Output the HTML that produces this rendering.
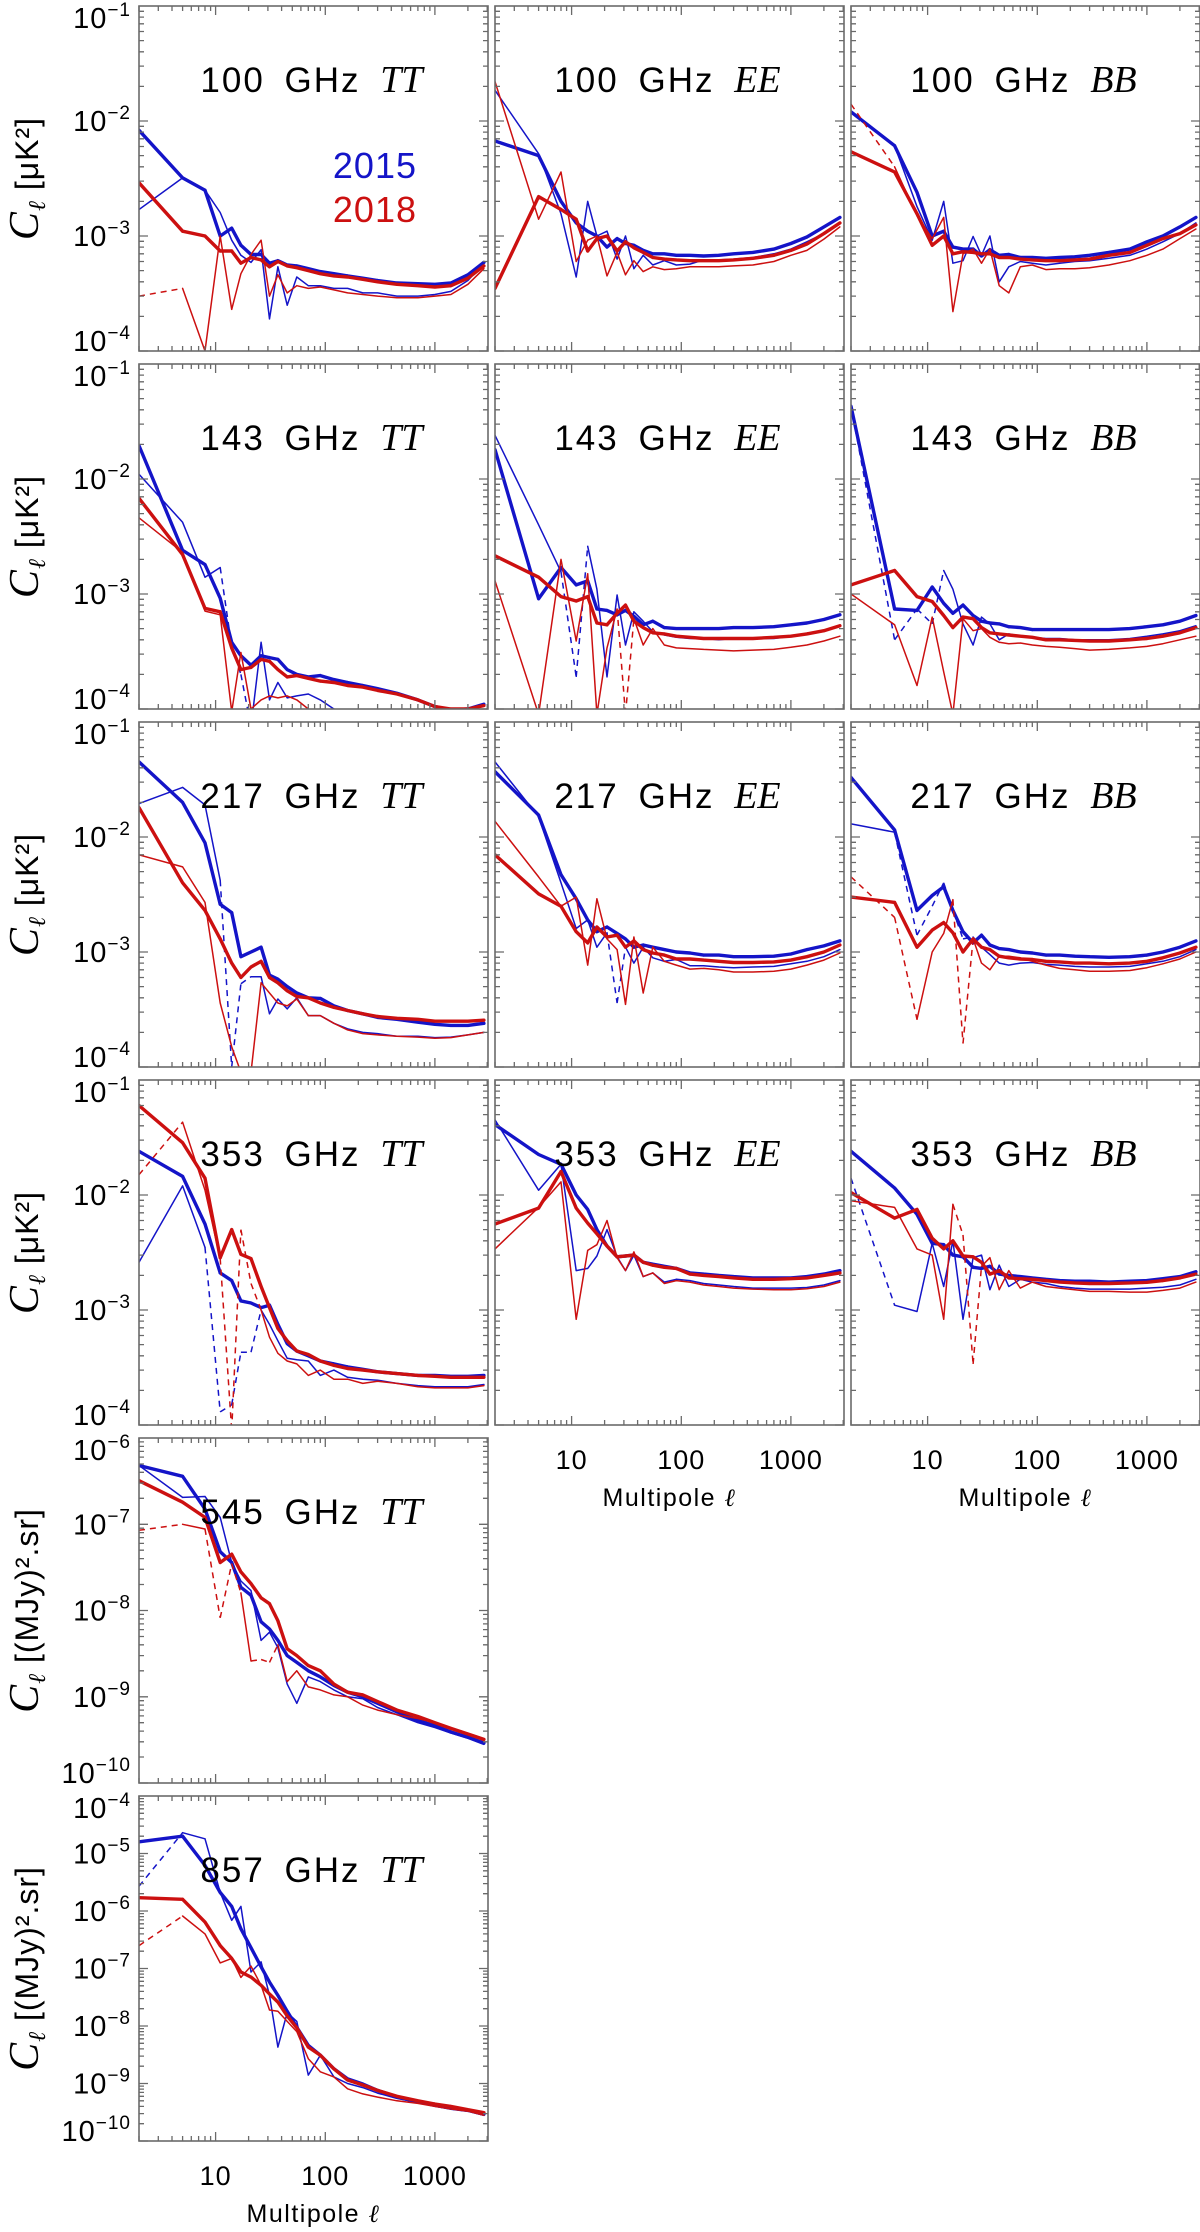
<!DOCTYPE html>
<html><head><meta charset="utf-8"><style>
html,body{margin:0;padding:0;background:#fff;}
svg{display:block;}
text{font-family:"Liberation Sans","DejaVu Sans",sans-serif;fill:#000;}
</style></head>
<body>
<svg id="fig" xmlns="http://www.w3.org/2000/svg" width="1200" height="2232" viewBox="0 0 1200 2232">
<defs id="defs"></defs>
<g id="root"></g>
</svg>
<script>
const ell = [2,5,8,11,14,17,21,26,31,37,45,55,70,90,120,160,220,300,450,700,1000,1400,2000,2800];
const xTickLabels = ["10","100","1000"];
const xTickValues = [10,100,1000];

const tt100_t15b = [8.3e-3,3.2e-3,2.5e-3,1.0e-3,1.17e-3,8.3e-4,6.9e-4,6.9e-4,5.8e-4,6.1e-4,5.6e-4,5.5e-4,5.2e-4,4.9e-4,4.7e-4,4.5e-4,4.3e-4,4.1e-4,3.9e-4,3.85e-4,3.8e-4,3.9e-4,4.6e-4,5.9e-4];
const tt100_t15n = [1.7e-3,3.2e-3,2.5e-3,1.6e-3,9.2e-4,6.8e-4,5.9e-4,7.6e-4,1.9e-4,5.4e-4,2.5e-4,4.4e-4,3.7e-4,3.7e-4,3.5e-4,3.5e-4,3.2e-4,3.2e-4,3.0e-4,3.0e-4,3.1e-4,3.3e-4,4.1e-4,5.8e-4];
const tt100_t18b = [2.9e-3,1.1e-3,1.0e-3,7.4e-4,7.4e-4,5.8e-4,6.5e-4,6.2e-4,5.4e-4,6.0e-4,5.5e-4,5.3e-4,5.0e-4,4.7e-4,4.5e-4,4.4e-4,4.2e-4,4.0e-4,3.8e-4,3.7e-4,3.6e-4,3.7e-4,4.3e-4,5.5e-4];
const tt100_t18n = [-3.0e-4,3.5e-4,1.0e-4,1.0e-3,2.3e-4,4.7e-4,6.9e-4,9.2e-4,3.0e-4,4.6e-4,3.2e-4,3.7e-4,3.5e-4,3.6e-4,3.4e-4,3.2e-4,3.1e-4,3.0e-4,2.9e-4,2.9e-4,3.0e-4,3.1e-4,3.8e-4,5.2e-4];

const ee100_t15b = [6.7e-3,5.0e-3,2.0e-3,1.3e-3,1.1e-3,1.0e-3,8.0e-4,9.5e-4,8.6e-4,8.3e-4,7.5e-4,7.0e-4,7.0e-4,6.8e-4,6.8e-4,6.7e-4,6.8e-4,7.0e-4,7.2e-4,7.7e-4,8.6e-4,9.8e-4,1.2e-3,1.45e-3];
const ee100_t15n = [1.85e-2,5.2e-3,1.56e-3,4.4e-4,2.0e-3,1.0e-3,1.1e-3,6.3e-4,1.0e-3,5.2e-4,6.8e-4,5.6e-4,6.1e-4,5.6e-4,5.7e-4,6.2e-4,6.2e-4,6.3e-4,6.5e-4,7.0e-4,7.7e-4,8.9e-4,1.05e-3,1.3e-3];
const ee100_t18b = [3.5e-4,2.2e-3,1.7e-3,1.4e-3,7.4e-4,9.5e-4,1.0e-3,7.4e-4,8.9e-4,7.9e-4,7.2e-4,6.5e-4,6.3e-4,6.2e-4,6.1e-4,6.1e-4,6.1e-4,6.2e-4,6.4e-4,6.8e-4,7.5e-4,8.5e-4,1.05e-3,1.3e-3];
const ee100_t18n = [2.2e-2,1.4e-3,3.6e-3,6.0e-4,9.2e-4,1.0e-3,4.5e-4,7.2e-4,4.6e-4,6.1e-4,4.9e-4,5.4e-4,5.1e-4,5.2e-4,5.4e-4,5.4e-4,5.4e-4,5.5e-4,5.6e-4,6.0e-4,6.8e-4,7.5e-4,9.4e-4,1.2e-3];

const bb100_t15b = [1.2e-2,6.1e-3,2.4e-3,1.0e-3,1.1e-3,8.0e-4,7.7e-4,7.7e-4,6.7e-4,7.6e-4,6.8e-4,6.9e-4,6.5e-4,6.5e-4,6.4e-4,6.5e-4,6.6e-4,6.8e-4,7.2e-4,7.7e-4,8.9e-4,1.0e-3,1.2e-3,1.45e-3];
const bb100_t15n = [1.2e-2,6.1e-3,1.8e-3,9.2e-4,2.0e-3,5.8e-4,6.1e-4,9.9e-4,6.8e-4,1.0e-3,4.0e-4,5.4e-4,6.0e-4,5.8e-4,5.6e-4,5.8e-4,6.0e-4,6.1e-4,6.4e-4,6.8e-4,7.7e-4,8.9e-4,1.05e-3,1.3e-3];
const bb100_t18b = [5.4e-3,3.6e-3,1.56e-3,8.3e-4,1.0e-3,7.0e-4,7.3e-4,7.2e-4,7.0e-4,7.0e-4,6.5e-4,6.5e-4,6.3e-4,6.2e-4,6.1e-4,6.1e-4,6.2e-4,6.3e-4,6.8e-4,7.2e-4,8.3e-4,9.5e-4,1.05e-3,1.25e-3];
const bb100_t18n = [-1.4e-2,4.0e-3,1.5e-3,9.5e-4,1.45e-3,2.2e-4,7.0e-4,7.7e-4,5.8e-4,7.7e-4,3.7e-4,3.2e-4,5.4e-4,5.6e-4,5.1e-4,5.2e-4,5.2e-4,5.3e-4,5.6e-4,6.1e-4,6.8e-4,7.7e-4,9.5e-4,1.15e-3];

const tt143_t15b = [1.95e-2,2.4e-3,1.8e-3,9.2e-4,3.8e-4,2.9e-4,2.4e-4,2.9e-4,2.8e-4,2.7e-4,2.2e-4,2.0e-4,1.9e-4,1.95e-4,1.8e-4,1.7e-4,1.6e-4,1.5e-4,1.37e-4,1.2e-4,1.05e-4,9.8e-5,1.0e-4,1.1e-4];
const tt143_t15n = [1.1e-2,4.2e-3,1.4e-3,1.7e-3,-3.5e-4,-2.0e-4,7e-5,3.8e-4,1.2e-4,1.7e-4,1.25e-4,1.3e-4,1.35e-4,1.2e-4,1.0e-4,9.5e-5,9e-5,8.5e-5,8e-5,7.5e-5,7e-5,7e-5,7.5e-5,8e-5];
const tt143_t18b = [6.8e-3,2.2e-3,7.5e-4,7.0e-4,3.4e-4,2.2e-4,2.3e-4,2.7e-4,2.6e-4,2.2e-4,1.9e-4,1.95e-4,1.85e-4,1.75e-4,1.7e-4,1.6e-4,1.55e-4,1.45e-4,1.35e-4,1.2e-4,1.05e-4,1.0e-4,1.0e-4,1.07e-4];
const tt143_t18n = [4.6e-3,2.3e-3,7.1e-4,6.6e-4,9.5e-5,3.1e-4,1.0e-4,1.2e-4,1.3e-4,1.25e-4,1.3e-4,1.2e-4,1.0e-4,9e-5,8.5e-5,8e-5,7.5e-5,7e-5,6.5e-5,6e-5,6e-5,6e-5,6.5e-5,7e-5];

const ee143_t15b = [1.8e-2,9.1e-4,1.7e-3,1.2e-3,1.3e-3,7.4e-4,7.2e-4,6.6e-4,7.2e-4,6.4e-4,5.4e-4,5.8e-4,5.1e-4,5.0e-4,5.0e-4,5.0e-4,5.0e-4,5.1e-4,5.1e-4,5.2e-4,5.4e-4,5.6e-4,6.0e-4,6.6e-4];
const ee143_t15n = [2.4e-2,4.0e-3,1.56e-3,-1.9e-4,2.6e-3,1.1e-3,1.9e-4,9.8e-4,3.6e-4,7.0e-4,5.8e-4,4.7e-4,4.4e-4,4.2e-4,4.1e-4,4.1e-4,4.0e-4,4.1e-4,4.1e-4,4.1e-4,4.3e-4,4.5e-4,4.8e-4,5.3e-4];
const ee143_t18b = [2.15e-3,1.4e-3,9.5e-4,8.7e-4,9.5e-4,5.6e-4,5.4e-4,6.8e-4,8.0e-4,5.8e-4,5.1e-4,4.6e-4,4.5e-4,4.3e-4,4.2e-4,4.1e-4,4.1e-4,4.1e-4,4.1e-4,4.2e-4,4.3e-4,4.5e-4,4.8e-4,5.3e-4];
const ee143_t18n = [1.3e-3,9e-5,2.0e-3,3.9e-4,1.5e-3,9e-5,3.4e-4,7.4e-4,-9e-5,6.1e-4,3.6e-4,5.0e-4,3.6e-4,3.4e-4,3.35e-4,3.3e-4,3.25e-4,3.2e-4,3.25e-4,3.3e-4,3.45e-4,3.6e-4,3.9e-4,4.3e-4];

const bb143_t15b = [4.3e-2,7.4e-4,7.2e-4,1.15e-3,8.3e-4,6.8e-4,8.0e-4,6.5e-4,5.8e-4,5.6e-4,5.5e-4,5.2e-4,5.1e-4,4.9e-4,4.9e-4,4.9e-4,4.9e-4,4.9e-4,4.9e-4,5.0e-4,5.2e-4,5.4e-4,5.8e-4,6.5e-4];
const bb143_t15n = [4.3e-2,-4.0e-4,7.4e-4,-5.5e-4,1.6e-3,1.1e-3,5.5e-4,3.6e-4,6.3e-4,5.5e-4,4.0e-4,4.5e-4,4.3e-4,4.2e-4,4.1e-4,4.1e-4,4.0e-4,4.0e-4,4.0e-4,4.1e-4,4.3e-4,4.5e-4,4.8e-4,5.3e-4];
const bb143_t18b = [1.2e-3,1.6e-3,9.5e-4,8.6e-4,6.5e-4,5.1e-4,6.3e-4,6.1e-4,5.1e-4,4.6e-4,4.5e-4,4.4e-4,4.3e-4,4.2e-4,4.0e-4,4.0e-4,3.95e-4,3.9e-4,3.9e-4,4.0e-4,4.1e-4,4.3e-4,4.6e-4,5.1e-4];
const bb143_t18n = [1.0e-3,5.4e-4,1.6e-4,6.3e-4,2.1e-4,9e-5,6.1e-4,4.8e-4,5.0e-4,4.2e-4,3.8e-4,3.7e-4,3.75e-4,3.6e-4,3.5e-4,3.45e-4,3.35e-4,3.25e-4,3.3e-4,3.4e-4,3.5e-4,3.7e-4,4.0e-4,4.3e-4];

const tt217_t15b = [4.5e-2,2.0e-2,8.9e-3,2.6e-3,2.2e-3,9.1e-4,1.0e-3,1.1e-3,6.3e-4,5.8e-4,5.0e-4,4.4e-4,4.0e-4,3.95e-4,3.4e-4,3.1e-4,2.9e-4,2.7e-4,2.6e-4,2.45e-4,2.35e-4,2.3e-4,2.3e-4,2.4e-4];
const tt217_t15n = [1.95e-2,2.7e-2,1.9e-2,4.2e-3,-1.0e-4,-5.3e-4,6.1e-4,6.1e-4,2.9e-4,3.9e-4,3.2e-4,4.0e-4,2.8e-4,2.8e-4,2.4e-4,2.15e-4,2.0e-4,1.95e-4,1.85e-4,1.85e-4,1.8e-4,1.82e-4,1.9e-4,2.0e-4];
const tt217_t18b = [1.8e-2,4.0e-3,2.3e-3,1.3e-3,8.0e-4,6.0e-4,7.4e-4,8.3e-4,6.0e-4,5.4e-4,4.6e-4,4.1e-4,4.0e-4,3.6e-4,3.3e-4,3.1e-4,2.9e-4,2.75e-4,2.65e-4,2.6e-4,2.5e-4,2.5e-4,2.5e-4,2.55e-4];
const tt217_t18n = [7.0e-3,5.5e-3,2.7e-3,3.6e-4,1.5e-4,9e-5,9e-5,5.4e-4,4.4e-4,3.6e-4,3.4e-4,3.9e-4,2.8e-4,2.8e-4,2.4e-4,2.1e-4,1.95e-4,1.9e-4,1.85e-4,1.82e-4,1.78e-4,1.8e-4,1.9e-4,2.0e-4];

const ee217_t15b = [3.7e-2,1.55e-2,4.7e-3,2.9e-3,1.9e-3,1.5e-3,1.65e-3,1.45e-3,1.3e-3,1.1e-3,1.15e-3,1.1e-3,1.05e-3,1.0e-3,9.8e-4,9.4e-4,9.4e-4,9.1e-4,9.1e-4,9.2e-4,9.6e-4,1.05e-3,1.13e-3,1.25e-3];
const ee217_t15n = [4.5e-2,1.5e-2,4.0e-3,1.6e-3,1.9e-3,1.1e-3,1.47e-3,-3.6e-4,1.1e-3,8.0e-4,1.1e-3,8.9e-4,8.3e-4,8.6e-4,7.6e-4,7.6e-4,7.4e-4,7.3e-4,7.4e-4,7.5e-4,7.9e-4,8.3e-4,9.1e-4,1.05e-3];
const ee217_t18b = [7.0e-3,3.2e-3,2.5e-3,1.5e-3,1.2e-3,1.65e-3,1.35e-3,1.4e-3,1.1e-3,1.25e-3,1.05e-3,9.8e-4,9.4e-4,8.7e-4,8.7e-4,8.5e-4,8.3e-4,8.1e-4,8.1e-4,8.2e-4,8.5e-4,9.1e-4,1.0e-3,1.15e-3];
const ee217_t18n = [1.37e-2,4.5e-3,2.5e-3,3.0e-3,7.7e-4,2.9e-3,1.3e-3,1.05e-3,3.5e-4,1.35e-3,4.4e-4,1.1e-3,8.3e-4,7.7e-4,7.1e-4,7.2e-4,7.0e-4,6.7e-4,6.7e-4,6.8e-4,7.1e-4,7.7e-4,8.5e-4,9.8e-4];

const bb217_t15b = [3.3e-2,1.15e-2,2.3e-3,3.1e-3,3.7e-3,2.3e-3,1.5e-3,1.2e-3,1.4e-3,1.15e-3,1.07e-3,1.05e-3,1.0e-3,9.8e-4,9.4e-4,9.4e-4,9.2e-4,9.1e-4,9.0e-4,9.1e-4,9.4e-4,1.0e-3,1.1e-3,1.25e-3];
const bb217_t15n = [1.3e-2,1.1e-2,-1.4e-3,-2.5e-3,4.0e-3,-2.3e-3,-1.3e-3,1.35e-3,1.1e-3,9.5e-4,8.0e-4,7.7e-4,8.0e-4,8.1e-4,7.8e-4,7.7e-4,7.5e-4,7.4e-4,7.4e-4,7.5e-4,7.9e-4,8.3e-4,9.1e-4,1.05e-3];
const bb217_t18b = [3.0e-3,2.7e-3,1.1e-3,1.55e-3,1.8e-3,1.47e-3,1.0e-3,1.3e-3,1.1e-3,1.05e-3,9.2e-4,8.9e-4,8.7e-4,8.6e-4,8.3e-4,8.2e-4,8.0e-4,8.0e-4,7.9e-4,8.0e-4,8.3e-4,8.9e-4,9.8e-4,1.1e-3];
const bb217_t18n = [-4.5e-3,-2.0e-3,2.6e-4,1.0e-3,1.45e-3,2.85e-3,-1.6e-4,1.3e-3,8.0e-4,7.0e-4,9.2e-4,9.2e-4,8.9e-4,8.3e-4,7.7e-4,7.2e-4,7.0e-4,6.8e-4,6.8e-4,6.9e-4,7.3e-4,7.9e-4,8.7e-4,1.0e-3];

const tt353_t15b = [2.4e-2,1.45e-2,5.6e-3,2.1e-3,1.8e-3,1.2e-3,1.15e-3,1.05e-3,1.1e-3,7.5e-4,5.1e-4,4.4e-4,4.0e-4,3.6e-4,3.4e-4,3.2e-4,3.05e-4,2.9e-4,2.8e-4,2.7e-4,2.7e-4,2.65e-4,2.65e-4,2.7e-4];
const tt353_t15n = [2.6e-3,1.2e-2,3.5e-3,-1.3e-4,-1.5e-4,-4.3e-4,-4.3e-4,1.0e-3,7.5e-4,5.4e-4,3.8e-4,3.7e-4,3.6e-4,2.7e-4,3.0e-4,2.6e-4,2.5e-4,2.45e-4,2.3e-4,2.2e-4,2.15e-4,2.15e-4,2.15e-4,2.25e-4];
const tt353_t18b = [6.0e-2,2.85e-2,1.4e-2,2.85e-3,5.0e-3,3.05e-3,2.8e-3,1.6e-3,1.05e-3,6.9e-4,5.4e-4,4.4e-4,4.1e-4,3.6e-4,3.3e-4,3.1e-4,3.0e-4,2.9e-4,2.8e-4,2.7e-4,2.65e-4,2.6e-4,2.6e-4,2.6e-4];
const tt353_t18n = [-1.5e-2,4.3e-2,1.1e-2,2.8e-3,-9e-5,5.0e-3,-1.7e-3,1.0e-3,5.8e-4,4.2e-4,3.6e-4,3.4e-4,2.7e-4,3.0e-4,2.5e-4,2.5e-4,2.3e-4,2.4e-4,2.3e-4,2.15e-4,2.1e-4,2.1e-4,2.1e-4,2.2e-4];

const ee353_t15b = [4.1e-2,2.25e-2,1.85e-2,1.0e-2,7.5e-3,5.0e-3,3.6e-3,2.9e-3,2.95e-3,3.0e-3,2.6e-3,2.5e-3,2.4e-3,2.3e-3,2.1e-3,2.05e-3,2.0e-3,1.95e-3,1.9e-3,1.9e-3,1.9e-3,1.95e-3,2.05e-3,2.2e-3];
const ee353_t15n = [4.5e-2,1.1e-2,1.85e-2,2.2e-3,2.3e-3,2.95e-3,5.0e-3,2.9e-3,2.2e-3,3.0e-3,1.95e-3,2.1e-3,1.75e-3,1.85e-3,1.8e-3,1.7e-3,1.65e-3,1.6e-3,1.55e-3,1.55e-3,1.55e-3,1.57e-3,1.65e-3,1.8e-3];
const ee353_t18b = [5.6e-3,7.7e-3,1.6e-2,7.7e-3,5.7e-3,4.6e-3,3.6e-3,2.9e-3,2.95e-3,3.0e-3,2.6e-3,2.45e-3,2.35e-3,2.3e-3,2.05e-3,2.0e-3,1.95e-3,1.9e-3,1.85e-3,1.85e-3,1.87e-3,1.9e-3,2.0e-3,2.1e-3];
const ee353_t18n = [3.4e-3,7.8e-3,1.3e-2,8.3e-4,3.3e-3,3.7e-3,6.0e-3,2.85e-3,2.2e-3,3.2e-3,1.95e-3,2.1e-3,1.7e-3,1.8e-3,1.75e-3,1.65e-3,1.6e-3,1.55e-3,1.52e-3,1.5e-3,1.5e-3,1.53e-3,1.6e-3,1.75e-3];

const bb353_t15b = [2.4e-2,1.15e-2,6.8e-3,3.8e-3,3.7e-3,3.0e-3,2.9e-3,2.35e-3,2.3e-3,2.4e-3,2.05e-3,2.0e-3,1.95e-3,1.9e-3,1.85e-3,1.8e-3,1.78e-3,1.78e-3,1.75e-3,1.78e-3,1.8e-3,1.87e-3,1.95e-3,2.15e-3];
const bb353_t15n = [-1.4e-2,1.1e-3,9.7e-4,3.8e-3,1.6e-3,4.0e-3,8.3e-4,2.85e-3,3.0e-3,1.5e-3,2.45e-3,1.6e-3,1.85e-3,1.75e-3,1.7e-3,1.6e-3,1.55e-3,1.52e-3,1.52e-3,1.52e-3,1.55e-3,1.58e-3,1.65e-3,1.85e-3];
const bb353_t18b = [1.05e-2,6.3e-3,7.5e-3,4.2e-3,3.4e-3,4.0e-3,2.95e-3,2.9e-3,2.6e-3,2.05e-3,2.2e-3,1.9e-3,1.87e-3,1.85e-3,1.8e-3,1.75e-3,1.72e-3,1.7e-3,1.7e-3,1.72e-3,1.74e-3,1.8e-3,1.9e-3,2.05e-3];
const bb353_t18n = [8.9e-3,7.8e-3,3.4e-3,3.0e-3,8.3e-4,8.3e-3,-4.5e-3,-3.4e-4,2.4e-3,2.85e-3,1.5e-3,2.2e-3,1.55e-3,1.75e-3,1.6e-3,1.55e-3,1.5e-3,1.45e-3,1.45e-3,1.43e-3,1.43e-3,1.48e-3,1.55e-3,1.75e-3];

const tt545_t15b = [4.8e-7,3.6e-7,1.5e-7,4.8e-8,3.6e-8,1.86e-8,1.5e-8,7.4e-9,6.1e-9,4.5e-9,3.0e-9,2.5e-9,2.0e-9,1.7e-9,1.35e-9,1.13e-9,1.0e-9,8.4e-10,6.7e-10,5.3e-10,4.6e-10,3.9e-10,3.4e-10,2.9e-10];
const tt545_t15n = [4.8e-7,2.05e-7,2.1e-7,1.2e-7,3.6e-8,2.2e-8,1.7e-8,4.5e-9,5.6e-9,3.7e-9,1.4e-9,8.4e-10,1.7e-9,1.5e-9,1.2e-9,1.0e-9,9.5e-10,7.5e-10,6.2e-10,5.0e-10,4.4e-10,3.8e-10,3.3e-10,2.8e-10];
const tt545_t18b = [3.2e-7,1.8e-7,1.2e-7,3.6e-8,4.5e-8,2.8e-8,2.05e-8,1.4e-8,1.2e-8,7.6e-9,3.6e-9,3.0e-9,2.3e-9,2.0e-9,1.4e-9,1.13e-9,1.05e-9,8.8e-10,7.0e-10,5.9e-10,5.0e-10,4.3e-10,3.7e-10,3.2e-10];
const tt545_t18n = [-8.5e-8,1.0e-7,8.8e-8,-8.2e-9,-3.5e-8,1.6e-8,2.6e-9,-2.7e-9,-2.5e-9,4.0e-9,1.5e-9,2.0e-9,1.3e-9,1.2e-9,1.05e-9,1.0e-9,8.0e-10,7.0e-10,6.2e-10,5.6e-10,5.0e-10,4.3e-10,3.7e-10,3.1e-10];

const tt857_t15b = [1.6e-5,2.0e-5,6.2e-6,2.1e-6,1.2e-6,4.9e-7,2.3e-7,1.07e-7,5.8e-8,3.4e-8,1.8e-8,9.5e-9,4.6e-9,3.1e-9,1.8e-9,1.2e-9,9.8e-10,7.6e-10,5.8e-10,4.8e-10,4.2e-10,3.7e-10,3.4e-10,2.9e-10];
const tt857_t15n = [-2.7e-6,2.3e-5,1.8e-5,2.1e-6,6.9e-7,1.2e-6,8.7e-8,1.3e-7,3.4e-8,4.3e-9,1.7e-8,1.2e-8,1.4e-9,3.1e-9,1.3e-9,1.0e-9,8.5e-10,6.8e-10,5.5e-10,4.7e-10,4.0e-10,3.6e-10,3.3e-10,2.8e-10];
const tt857_t18b = [1.7e-6,1.6e-6,6.4e-7,2.5e-7,1.5e-7,8.7e-8,7.1e-8,5.1e-8,3.6e-8,2.6e-8,1.5e-8,9.3e-9,4.3e-9,3.1e-9,1.8e-9,1.15e-9,9.4e-10,7.6e-10,6.0e-10,5.0e-10,4.4e-10,4.0e-10,3.5e-10,3.1e-10];
const tt857_t18n = [-2.5e-7,8.2e-7,4.0e-7,1.25e-7,1.5e-7,7.0e-8,1.1e-7,5.1e-8,1.9e-8,1.8e-8,1.2e-8,8.0e-9,2.7e-9,1.6e-9,1.3e-9,8.1e-10,6.6e-10,5.8e-10,5.0e-10,4.5e-10,4.0e-10,3.6e-10,3.3e-10,2.8e-10];

const panels = [
 {id:"100-tt",freq:"100",sp:"TT",col:0,row:0,lo:-4,hi:-1,s:[tt100_t15b,tt100_t15n,tt100_t18b,tt100_t18n]},
 {id:"100-ee",freq:"100",sp:"EE",col:1,row:0,lo:-4,hi:-1,s:[ee100_t15b,ee100_t15n,ee100_t18b,ee100_t18n]},
 {id:"100-bb",freq:"100",sp:"BB",col:2,row:0,lo:-4,hi:-1,s:[bb100_t15b,bb100_t15n,bb100_t18b,bb100_t18n]},
 {id:"143-tt",freq:"143",sp:"TT",col:0,row:1,lo:-4,hi:-1,s:[tt143_t15b,tt143_t15n,tt143_t18b,tt143_t18n]},
 {id:"143-ee",freq:"143",sp:"EE",col:1,row:1,lo:-4,hi:-1,s:[ee143_t15b,ee143_t15n,ee143_t18b,ee143_t18n]},
 {id:"143-bb",freq:"143",sp:"BB",col:2,row:1,lo:-4,hi:-1,s:[bb143_t15b,bb143_t15n,bb143_t18b,bb143_t18n]},
 {id:"217-tt",freq:"217",sp:"TT",col:0,row:2,lo:-4,hi:-1,s:[tt217_t15b,tt217_t15n,tt217_t18b,tt217_t18n]},
 {id:"217-ee",freq:"217",sp:"EE",col:1,row:2,lo:-4,hi:-1,s:[ee217_t15b,ee217_t15n,ee217_t18b,ee217_t18n]},
 {id:"217-bb",freq:"217",sp:"BB",col:2,row:2,lo:-4,hi:-1,s:[bb217_t15b,bb217_t15n,bb217_t18b,bb217_t18n]},
 {id:"353-tt",freq:"353",sp:"TT",col:0,row:3,lo:-4,hi:-1,s:[tt353_t15b,tt353_t15n,tt353_t18b,tt353_t18n]},
 {id:"353-ee",freq:"353",sp:"EE",col:1,row:3,lo:-4,hi:-1,s:[ee353_t15b,ee353_t15n,ee353_t18b,ee353_t18n]},
 {id:"353-bb",freq:"353",sp:"BB",col:2,row:3,lo:-4,hi:-1,s:[bb353_t15b,bb353_t15n,bb353_t18b,bb353_t18n]},
 {id:"545-tt",freq:"545",sp:"TT",col:0,row:4,lo:-10,hi:-6,s:[tt545_t15b,tt545_t15n,tt545_t18b,tt545_t18n]},
 {id:"857-tt",freq:"857",sp:"TT",col:0,row:5,lo:-10,hi:-4,s:[tt857_t15b,tt857_t15n,tt857_t18b,tt857_t18n]}
];

const NS = "http://www.w3.org/2000/svg";
const colX = [139,495,851];
const rowY = [6,364,722,1080,1438,1796];
const W = 349, H = 345;
const LMIN = 2, LMAX = 3050;
const styles = [
 {c:"#1414c8",w:3.4,name:"series-2015-full"},
 {c:"#1414c8",w:1.5,name:"series-2015-half"},
 {c:"#cc1010",w:3.4,name:"series-2018-full"},
 {c:"#cc1010",w:1.5,name:"series-2018-half"}
];
const root = document.getElementById("root");
const defs = document.getElementById("defs");

function mk(tag, attrs, parent){
  const e = document.createElementNS(NS, tag);
  for (const k in attrs) e.setAttribute(k, attrs[k]);
  if (parent) parent.appendChild(e);
  return e;
}

panels.forEach(function(p){
  const x0 = colX[p.col], y0 = rowY[p.row];
  const xs = function(l){ return x0 + Math.log10(l/LMIN)/Math.log10(LMAX/LMIN)*W; };
  const ys = function(v){ return y0 + (p.hi - Math.log10(Math.abs(v)))/(p.hi - p.lo)*H; };

  const g = mk("g", {}, root);
  
  

  const cp = mk("clipPath", {id:"clip-" + p.id}, defs);
  mk("rect", {x:x0, y:y0, width:W, height:H}, cp);

  const sg = mk("g", {"clip-path":"url(#clip-" + p.id + ")"}, g);
  p.s.forEach(function(arr, si){
    const st = styles[si];
    let solid = "", dashed = "";
    for (let i = 0; i < arr.length - 1; i++){
      const a = arr[i], b = arr[i+1];
      const seg = "M" + xs(ell[i]).toFixed(1) + "," + ys(a).toFixed(1) + "L" + xs(ell[i+1]).toFixed(1) + "," + ys(b).toFixed(1);
      if (a < 0 || b < 0) dashed += seg; else solid += seg;
    }
    const sp = mk("path", {d:solid, fill:"none", stroke:st.c, "stroke-width":st.w, "stroke-linejoin":"round", "stroke-linecap":"round"}, sg);
    
    
    if (dashed){
      const dp = mk("path", {d:dashed, fill:"none", stroke:st.c, "stroke-width":st.w, "stroke-dasharray":"6,5"}, sg);
      
      
    }
  });

  const fr = mk("rect", {x:x0, y:y0, width:W, height:H, fill:"none", stroke:"#6a6a6a", "stroke-width":1.6}, g);
  
  

  let td = "";
  for (let d = 1; d <= 1000; d *= 10){
    for (let m = 1; m <= 9; m++){
      const l = m*d;
      if (l < LMIN || l > LMAX) continue;
      const x = xs(l).toFixed(1), len = (m === 1) ? 9 : 5;
      td += "M" + x + "," + (y0+H) + "v-" + len + "M" + x + "," + y0 + "v" + len;
    }
  }
  for (let e = p.lo; e < p.hi; e++){
    for (let m = 1; m <= 9; m++){
      const v = m*Math.pow(10, e);
      const y = ys(v).toFixed(1), len = (m === 1) ? 9 : 5;
      td += "M" + x0 + "," + y + "h" + len + "M" + (x0+W) + "," + y + "h-" + len;
    }
  }
  mk("path", {d:td, stroke:"#6a6a6a", "stroke-width":1.3, fill:"none"}, g);

  if (p.col === 0){
    for (let e = p.lo; e <= p.hi; e++){
      let yc = ys(Math.pow(10, e));
      yc = Math.max(y0 + 12, Math.min(y0 + H - 10, yc));
      const t = mk("text", {x:131, y:(yc + 10).toFixed(1), "text-anchor":"end", "letter-spacing":"1"}, g);
      
      
      const a = mk("tspan", {"font-size":"29"}, t); a.textContent = "10";
      const b = mk("tspan", {"font-size":"19", dy:"-12"}, t); b.textContent = "\u2212" + Math.abs(e);
    }
    const ty = y0 + H/2;
    const yt = mk("text", {transform:"translate(38," + ty + ") rotate(-90)", "text-anchor":"middle", "font-size":"32", "letter-spacing":"1"}, g);
    
    
    const c = mk("tspan", {"font-family":"Liberation Serif, serif", "font-style":"italic", "font-size":"42"}, yt); c.textContent = "C";
    const l = mk("tspan", {"font-family":"DejaVu Serif, serif", "font-style":"italic", "font-size":"24", dy:"7"}, yt); l.textContent = "\u2113";
    const u = mk("tspan", {dy:"-7"}, yt);
    u.textContent = (p.row < 4) ? " [\u03bcK\u00b2]" : " [(MJy)\u00b2.sr]";
  }

  const tt = mk("text", {x:(x0 + W/2 - 2).toFixed(1), y:y0 + 86, "text-anchor":"middle", "font-size":"35", "letter-spacing":"2", "word-spacing":"8"}, g);
  
  
  const t1 = mk("tspan", {}, tt); t1.textContent = p.freq + " GHz ";
  const t2 = mk("tspan", {"font-family":"Liberation Serif, serif", "font-style":"italic", "font-size":"38", "letter-spacing":"0"}, tt); t2.textContent = p.sp;

  if ((p.row === 3 && p.col > 0) || p.row === 5){
    xTickValues.forEach(function(v, i){
      const t = mk("text", {x:xs(v).toFixed(1), y:y0 + H + 44, "text-anchor":"middle", "font-size":"27", "letter-spacing":"1"}, g);
      
      
      t.textContent = xTickLabels[i];
    });
    const xt = mk("text", {x:(x0 + W/2).toFixed(1), y:y0 + H + 81, "text-anchor":"middle", "font-size":"25", "letter-spacing":"1.5"}, g);
    
    
    const m1 = mk("tspan", {}, xt); m1.textContent = "Multipole ";
    const m2 = mk("tspan", {"font-family":"DejaVu Serif, serif", "font-style":"italic"}, xt); m2.textContent = "\u2113";
  }

  if (p.id === "100-tt"){
    const l1 = mk("text", {x:417, y:178, "text-anchor":"end", "font-size":"36", "letter-spacing":"1", style:"fill:#1414c8"}, g);
    
    
    l1.textContent = "2015";
    const l2 = mk("text", {x:417, y:222, "text-anchor":"end", "font-size":"36", "letter-spacing":"1", style:"fill:#cc1010"}, g);
    
    
    l2.textContent = "2018";
  }
});
</script>
</body></html>
